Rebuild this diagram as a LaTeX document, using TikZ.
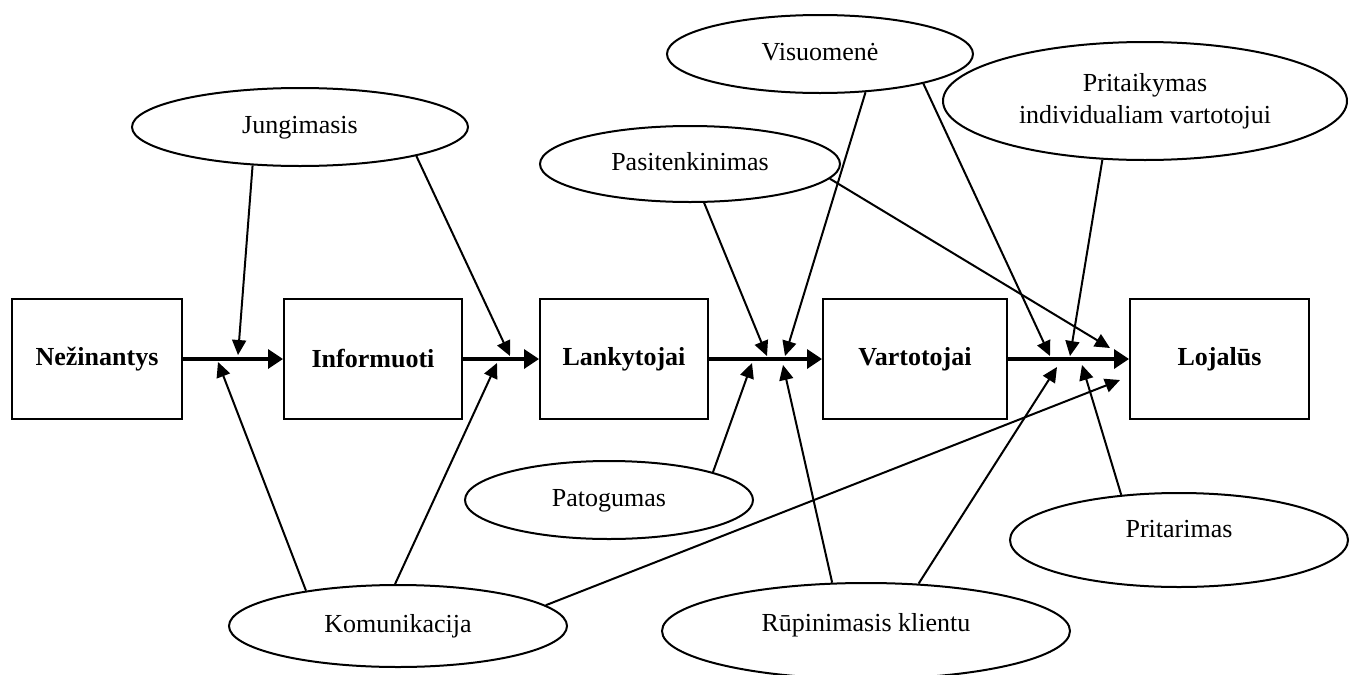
\documentclass[tikz,border=0pt]{standalone}
\usepackage{fontspec}
\setmainfont{Liberation Serif}
\usetikzlibrary{arrows.meta,shapes.geometric}
\begin{document}
\begin{tikzpicture}[x=0.5pt,y=-0.5pt,
  stage/.style={draw,line width=1pt,rectangle,inner sep=0pt,minimum height=60pt,
    font=\fontsize{13}{16}\selectfont\bfseries},
  factor/.style={draw,line width=1pt,ellipse,inner sep=0pt,
    font=\fontsize{13}{16}\selectfont,align=center},
  oneline/.style={text height=9pt,text depth=3pt},
  flow/.style={line width=1.75pt,-{Triangle[length=7.5pt,width=9.5pt]}},
  link/.style={line width=1pt,-{Triangle[length=7.5pt,width=7pt]}},
]
\useasboundingbox (0,0) rectangle (1350,675);

% customer stages
\node[stage,minimum width=85pt]   (nez) at (97,359)    {Nežinantys};
\node[stage,minimum width=89pt]   (inf) at (373,359)   {Informuoti};
\node[stage,minimum width=84pt]   (lan) at (624,359)   {Lankytojai};
\node[stage,minimum width=92pt]   (var) at (915,359)   {Vartotojai};
\node[stage,minimum width=89.5pt] (loj) at (1219.5,359) {Lojalūs};

% influencing factors
\node[factor,oneline,minimum width=168pt,minimum height=39pt] (jun) at (300,127) {Jungimasis};
\node[factor,oneline,minimum width=153pt,minimum height=39pt] (vis) at (820,54) {Visuomenė};
\node[factor,minimum width=202pt,minimum height=59pt] (pri) at (1145,101) {Pritaikymas\\individualiam vartotojui};
\node[factor,oneline,minimum width=150pt,minimum height=38pt] (pas) at (690,164) {Pasitenkinimas};
\node[factor,oneline,minimum width=144pt,minimum height=39pt] (pat) at (609,500) {Patogumas};
\node[factor,oneline,minimum width=169pt,minimum height=41pt] (kom) at (398,626) {Komunikacija};
\node[factor,text height=9pt,text depth=8.4pt,minimum width=204pt,minimum height=48pt] (rup) at (866,631) {Rūpinimasis klientu};
\node[factor,text height=9pt,text depth=11.4pt,minimum width=169pt,minimum height=47pt] (prt) at (1179,540) {Pritarimas};

% where the factor arrows meet the flow
\coordinate (t1)  at (238,355);
\coordinate (t2)  at (510,356);
\coordinate (t3)  at (218,362);
\coordinate (t4)  at (497,363);
\coordinate (t5)  at (1120,380);
\coordinate (t6)  at (767,356);
\coordinate (t7)  at (1110,348);
\coordinate (t8)  at (785,356);
\coordinate (t9)  at (1050,356);
\coordinate (t10) at (1070,356);
\coordinate (t11) at (752,363);
\coordinate (t12) at (783,365);
\coordinate (t13) at (1057,367);
\coordinate (t14) at (1082,365);

% main flow
\draw[flow] (nez) -- (inf);
\draw[flow] (inf) -- (lan);
\draw[flow] (lan) -- (var);
\draw[flow] (var) -- (loj);

% factor arrows
\draw[link] (jun.219) -- (t1);
\draw[link] (jun.346) -- (t2);
\draw[link] (kom.159) -- (t3);
\draw[link] (kom.94)  -- (t4);
\draw[link] (kom.8)   -- (t5);
\draw[link] (pas.290) -- (t6);
\draw[link] (pas.354) -- (t7);
\draw[link] (vis.320) -- (t8);
\draw[link] (vis.344) -- (t9);
\draw[link] (pri.234) -- (t10);
\draw[link] (pat.15)  -- (t11);
\draw[link] (rup.125) -- (t12);
\draw[link] (rup.42)  -- (t13);
\draw[link] (prt.142) -- (t14);
\end{tikzpicture}
\end{document}
